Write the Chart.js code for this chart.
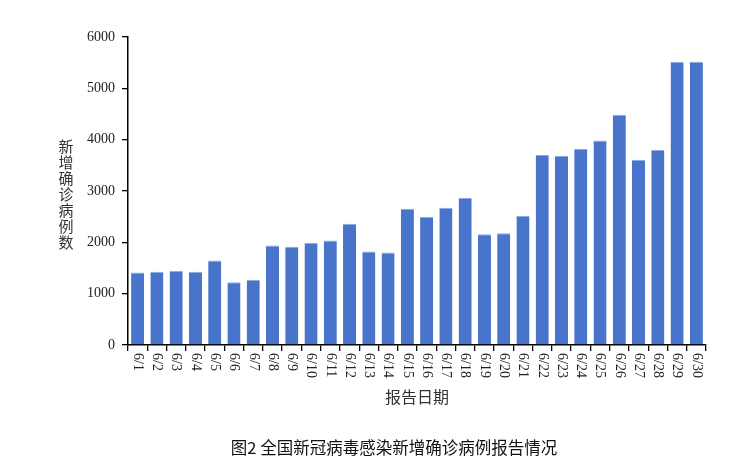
<!DOCTYPE html>
<html>
<head>
<meta charset="utf-8">
<script src="https://cdn.jsdelivr.net/npm/chart.js@4/dist/chart.umd.min.js"></script>
<style>
  body { margin: 0; background: #fff; }
  #wrap { width: 750px; height: 470px; }
</style>
</head>
<body>
<div id="wrap"><canvas id="cases" width="750" height="470"></canvas></div>
<script>
const dates = [
    '6/1', '6/2', '6/3', '6/4', '6/5', '6/6', '6/7', '6/8', '6/9', '6/10',
    '6/11', '6/12', '6/13', '6/14', '6/15', '6/16', '6/17', '6/18', '6/19', '6/20',
    '6/21', '6/22', '6/23', '6/24', '6/25', '6/26', '6/27', '6/28', '6/29', '6/30'
]

const newCases = [
    1410, 1428, 1447, 1428, 1647, 1220, 1273, 1938, 1912, 1990,
    2035, 2364, 1822, 1802, 2655, 2500, 2674, 2862, 2157, 2177,
    2519, 3701, 3688, 3818, 3986, 4483, 3611, 3798, 5517, 5517
]

const yTitle = '新增确诊病例数'
const xTitle = '报告日期'
const caption = '图2 全国新冠病毒感染新增确诊病例报告情况'

const serif = '"Liberation Serif", "DejaVu Serif", serif'
const cjk = '"Noto Sans CJK SC", sans-serif'

// x labels read top-to-bottom, so they are drawn here instead of by the scale
const textPlugin = {
    id: 'textPlugin',
    afterDraw(chart) {
        const ctx = chart.ctx;
        const x = chart.scales.x;
        ctx.save();
        ctx.fillStyle = '#222';
        ctx.font = '14px ' + serif;
        ctx.textAlign = 'left';
        ctx.textBaseline = 'middle';
        dates.forEach((d, i) => {
            ctx.save();
            ctx.translate(x.getPixelForTick(i), x.top + 8);
            ctx.rotate(Math.PI / 2);
            ctx.fillText(d, 0, 0);
            ctx.restore();
        });

        // stacked y title
        ctx.font = '15px ' + cjk;
        ctx.fillStyle = '#333';
        ctx.textAlign = 'center';
        ctx.textBaseline = 'middle';
        const step = 16;
        for (let i = 0; i < yTitle.length; i++) {
            ctx.fillText(yTitle[i], 66, 146 + i * step);
        }

        ctx.font = '16px ' + cjk;
        ctx.fillText(xTitle, (chart.chartArea.left + chart.chartArea.right) / 2, 397);

        ctx.font = '16.5px ' + cjk;
        ctx.fillStyle = '#111';
        ctx.fillText(caption, 394, 448);
        ctx.restore();
    }
}

new Chart(document.getElementById('cases'), {
    type: 'bar',
    data: {
        labels: dates,
        datasets: [{
            data: newCases,
            backgroundColor: '#4874cb',
            borderColor: '#8fa9e0',
            borderWidth: { top: 1, left: 0, right: 0, bottom: 0 },
            barPercentage: 0.68,
            categoryPercentage: 1
        }]
    },
    plugins: [textPlugin],
    options: {
        responsive: false,
        animation: false,
        layout: {
            padding: { top: 37, right: 44, left: 0, bottom: 0 }
        },
        plugins: {
            legend: { display: false },
            tooltip: { enabled: false }
        },
        scales: {
            x: {
                afterFit: (s) => { s.height = 125; },
                grid: {
                    offset: true,
                    drawOnChartArea: false,
                    color: '#000',
                    tickLength: 6,
                    lineWidth: 1.3
                },
                border: { color: '#000', width: 1.5 },
                ticks: {
                    color: 'rgba(0,0,0,0)',
                    maxRotation: 90,
                    minRotation: 90,
                    autoSkip: false
                }
            },
            y: {
                min: 0,
                max: 6000,
                afterFit: (s) => { s.width = 128; },
                grid: {
                    drawOnChartArea: false,
                    color: '#000',
                    tickLength: 6,
                    lineWidth: 1.3
                },
                border: { color: '#000', width: 1.5 },
                ticks: {
                    stepSize: 1000,
                    padding: 7,
                    color: '#222',
                    font: { family: serif, size: 14 },
                    callback: (v) => String(v)
                }
            }
        }
    }
})
</script>
</body>
</html>
